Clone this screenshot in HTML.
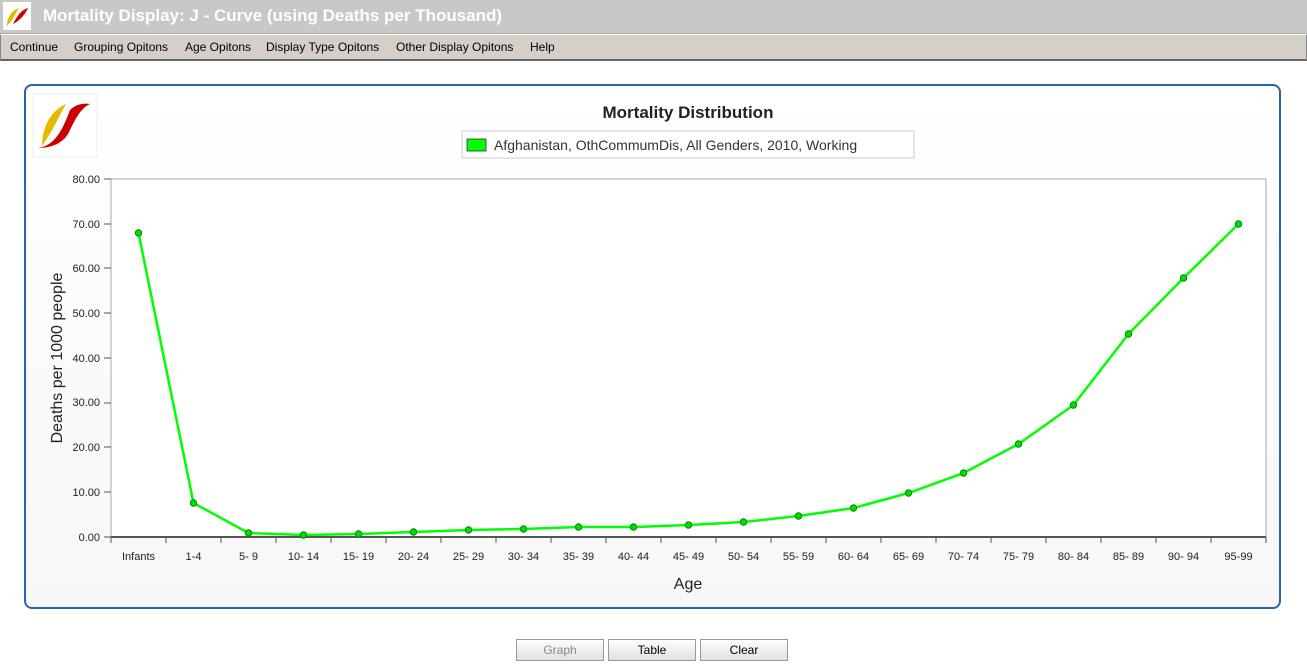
<!DOCTYPE html>
<html><head><style>
body{margin:0;width:1307px;height:667px;background:#fff;font-family:"Liberation Sans",sans-serif;position:relative;overflow:hidden}
.title{position:absolute;left:0;top:0;width:1307px;height:33px;background:#c8c8c8;border-bottom:1px solid #aaa}
.title span{position:absolute;left:43px;top:6px;color:#fff;font-weight:bold;font-size:17px}
.menu{position:absolute;left:0;top:34px;width:1305px;height:24px;background:#d4d0c8;border:1px solid #888;border-top:1px solid #fff;border-bottom:2px solid #666;font-size:12px}
.menu span{position:absolute;top:5px}
.frame{position:absolute;left:24px;top:84px;width:1253px;height:521px;border:2px solid #2a62ad;border-radius:8px;background:linear-gradient(#fff,#f7f7f7)}
.btn{position:absolute;top:639px;width:86px;height:20px;border:1px solid #999;background:linear-gradient(#fdfdfd,#e2e2e2);font-size:12px;text-align:center;line-height:20px}
</style></head><body>
<div class="title"><svg style="position:absolute;left:3px;top:2px" width="28" height="28"><rect width="28" height="28" fill="#fff"/><path d="M4 24 C4 14 10 8 16 6 C12 12 10 18 4 24Z" fill="#e6b800"/><path d="M10 22 C14 14 18 8 25 6 C22 12 18 18 10 22Z" fill="#c00"/></svg><span>Mortality Display: J - Curve (using Deaths per Thousand)</span></div>
<div class="menu"><span style="left:9px">Continue</span><span style="left:73px">Grouping Opitons</span><span style="left:184px">Age Opitons</span><span style="left:265px">Display Type Opitons</span><span style="left:395px">Other Display Opitons</span><span style="left:529px">Help</span></div>
<div class="frame"></div>
<svg style="position:absolute;left:0;top:0" width="1307" height="667">
<rect x="33" y="94" width="64" height="63" fill="#fff" stroke="#eee"/>
<path d="M42 146 C42 126 52 110 66 104 C58 118 52 132 42 146Z" fill="#e6b800"/>
<path d="M38 148 C56 146 64 126 70 110 C76 104 84 103 90 104 C80 108 74 122 68 134 C62 144 50 148 38 148Z" fill="#c00"/>
<text x="688" y="118" font-size="17" font-weight="bold" text-anchor="middle" fill="#222" font-family="Liberation Sans">Mortality Distribution</text>
<rect x="462" y="131" width="452" height="27" fill="#fff" stroke="#ccc"/>
<rect x="467" y="139" width="19" height="12" fill="#0f0" stroke="#333" stroke-width="0.8"/>
<text x="494" y="150" font-size="14" fill="#333" font-family="Liberation Sans">Afghanistan, OthCommumDis, All Genders, 2010, Working</text>
<rect x="111" y="179" width="1155" height="358" fill="#fff" stroke="#aaa"/>
<g font-size="11" fill="#222" text-anchor="end" font-family="Liberation Sans">
<text x="100" y="541">0.00</text><text x="100" y="496">10.00</text><text x="100" y="451">20.00</text><text x="100" y="406">30.00</text><text x="100" y="362">40.00</text><text x="100" y="317">50.00</text><text x="100" y="272">60.00</text><text x="100" y="228">70.00</text><text x="100" y="183">80.00</text>
</g>
<g stroke="#555"><path d="M104 537H111M104 492H111M104 447H111M104 403H111M104 358H111M104 313H111M104 268H111M104 224H111M104 179H111"/></g>
<path d="M111 537H1266" stroke="#555" stroke-width="2"/>
<g stroke="#555" id="xt"></g>
<text x="62" y="358" font-size="16" fill="#222" text-anchor="middle" transform="rotate(-90 62 358)" font-family="Liberation Sans">Deaths per 1000 people</text>
<text x="688" y="589" font-size="16" fill="#222" text-anchor="middle" font-family="Liberation Sans">Age</text>
<g id="xl" font-size="11" fill="#222" text-anchor="middle" font-family="Liberation Sans"></g>
<polyline id="ln" fill="none" stroke="#0f0" stroke-width="2.5"/>
<g id="pts" fill="#0d0" stroke="#080" stroke-width="1"></g>
</svg>
<div class="btn" style="left:516px;color:#888">Graph</div>
<div class="btn" style="left:608px">Table</div>
<div class="btn" style="left:700px">Clear</div>
<script>
var labs=["Infants","1-4","5- 9","10- 14","15- 19","20- 24","25- 29","30- 34","35- 39","40- 44","45- 49","50- 54","55- 59","60- 64","65- 69","70- 74","75- 79","80- 84","85- 89","90- 94","95-99"];
var ys=[233,503,533,535,534,532,530,529,527,527,525,522,516,508,493,473,444,405,334,278,224];
var ns="http://www.w3.org/2000/svg",xt=document.getElementById("xt"),xl=document.getElementById("xl"),pts=document.getElementById("pts"),p=[];
for(var k=0;k<=21;k++){var l=document.createElementNS(ns,"line");l.setAttribute("x1",111+55*k);l.setAttribute("x2",111+55*k);l.setAttribute("y1",537);l.setAttribute("y2",543);xt.appendChild(l);}
labs.forEach(function(s,i){var x=138.5+55*i;var t=document.createElementNS(ns,"text");t.setAttribute("x",x);t.setAttribute("y",560);t.textContent=s;xl.appendChild(t);
p.push(x+","+ys[i]);var c=document.createElementNS(ns,"circle");c.setAttribute("cx",x);c.setAttribute("cy",ys[i]);c.setAttribute("r",3.2);pts.appendChild(c);});
document.getElementById("ln").setAttribute("points",p.join(" "));
</script>
</body></html>
